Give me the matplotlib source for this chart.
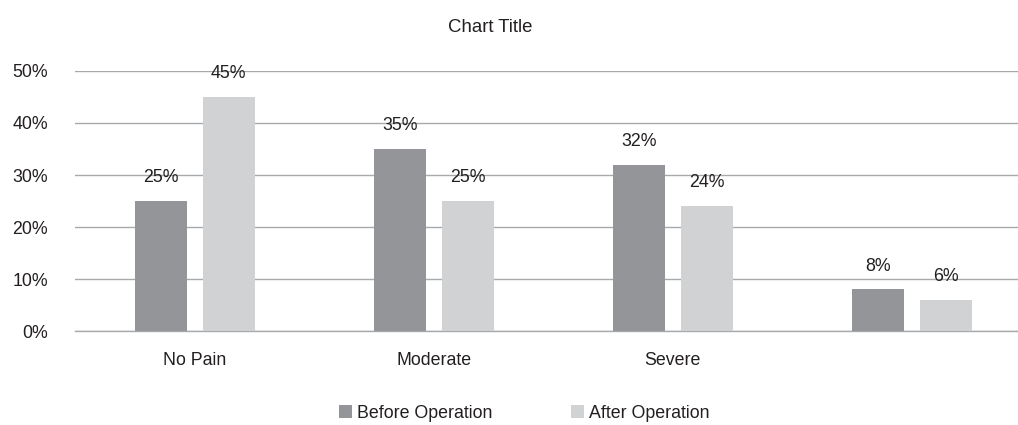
import numpy as np
import matplotlib
matplotlib.use("Agg")
from matplotlib import pyplot as plt
from matplotlib.ticker import PercentFormatter

categories = ["No Pain", "Moderate", "Severe", ""]
before = [25, 35, 32, 8]
after = [45, 25, 24, 6]
series_names = ["Before Operation", "After Operation"]

dark = "#939598"
light = "#d1d2d4"
txt = "#231f20"

plt.rcParams['font.family'] = ['Liberation Sans', 'DejaVu Sans']

fig = plt.figure(figsize=(10.18, 4.25), dpi=100)
ax = fig.add_axes([0.074, 0.221, 0.939, 0.612])

x = np.arange(len(categories))
w = 0.218
off = 0.142
b1 = ax.bar(x - off, before, w, color=dark, label=series_names[0], zorder=3)
b2 = ax.bar(x + off, after, w, color=light, label=series_names[1], zorder=3)

for bars, vals in [(b1, before), (b2, after)]:
    for r, v in zip(bars, vals):
        ax.text(r.get_x() + r.get_width() / 2, v + 4.5, f"{v}%", ha="center", va="center",
                fontsize=12.8, color=txt, zorder=4)

ax.set_xlim(-0.5, 3.5)
ax.set_ylim(0, 50)
ax.set_yticks(range(0, 51, 10))
ax.yaxis.set_major_formatter(PercentFormatter(decimals=0))
ax.set_xticks(x)
ax.set_xticklabels(categories)
ax.grid(axis="y", color="#a7a9ac", linewidth=1, zorder=0)
ax.axhline(0, color="#a7a9ac", linewidth=1, zorder=1, clip_on=False)
for s in ax.spines.values():
    s.set_visible(False)
ax.tick_params(length=0, labelsize=12.8, colors=txt)
ax.tick_params(axis="x", pad=15)
ax.tick_params(axis="y", pad=19.5)

fig.text(0.482, 0.935, "Chart Title", ha="center", va="center", fontsize=13.4, color=txt)
fig.legend(loc="center", bbox_to_anchor=(0.515, 0.028), ncol=2, frameon=False,
           fontsize=12.8, handlelength=0.75, handleheight=0.75, columnspacing=4.4,
           handletextpad=0.3, labelcolor=txt)

fig.savefig("out.png", dpi=100)
